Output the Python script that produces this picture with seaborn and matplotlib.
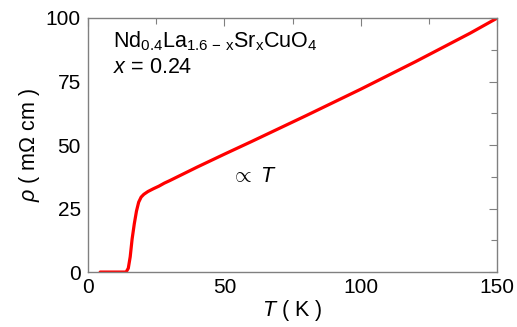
import numpy as np
import pandas as pd
import seaborn as sns
import matplotlib.pyplot as plt
from matplotlib.ticker import MultipleLocator

sns.set_style("white")
plt.rcParams['font.family'] = ['Liberation Sans', 'DejaVu Sans']
plt.rcParams['mathtext.fontset'] = 'custom'
plt.rcParams['mathtext.rm'] = 'Liberation Sans'
plt.rcParams['mathtext.it'] = 'Liberation Sans:italic'
plt.rcParams['text.color'] = 'black'
plt.rcParams['axes.labelcolor'] = 'black'
plt.rcParams['xtick.labelcolor'] = 'black'
plt.rcParams['ytick.labelcolor'] = 'black'

# resistivity curve
T = [4.5, 8, 12, 14.0, 14.8, 15.5, 16.2, 17.0, 17.8, 18.6, 19.5, 20.5, 22, 24, 26, 28,
     30, 40, 50, 60, 80, 100, 120, 140, 150]
rho = [0, 0, 0, 0, 1.5, 6, 13, 19, 24, 27.5, 29.5, 30.6, 31.7, 32.8, 33.8, 35,
       36.0, 41.3, 46.4, 51.4, 61.6, 72.0, 82.8, 94.0, 100]

df = pd.DataFrame({"T": T, "rho": rho})

fig, ax = plt.subplots(figsize=(5.17, 3.27), dpi=100)
sns.lineplot(data=df, x="T", y="rho", color="#ff0000", linewidth=2.3, ax=ax)

ax.set_xlim(0, 150)
ax.set_ylim(0, 100)
ax.xaxis.set_major_locator(MultipleLocator(50))
ax.xaxis.set_minor_locator(MultipleLocator(25))
ax.yaxis.set_major_locator(MultipleLocator(25))
ax.yaxis.set_minor_locator(MultipleLocator(12.5))
ax.tick_params(which="both", direction="in", top=True, right=True, color="#808080",
               labelsize=15)
ax.tick_params(axis="y", pad=5)
ax.tick_params(axis="x", pad=4)
ax.tick_params(which="major", length=6, width=0.8)
ax.tick_params(which="minor", length=4, width=0.8)
for s in ax.spines.values():
    s.set_color("#808080")
    s.set_linewidth(1.0)

ax.set_xlabel(r"$T$ ( K )", fontsize=15.5, labelpad=1)
ax.set_ylabel(r"$\rho$ ( m$\Omega$ cm )", fontsize=15.5, labelpad=3)

ax.text(0.062, 0.955, r"Nd$_{0.4}$La$_{1.6\,-\,\mathrm{x}}$Sr$_{\mathrm{x}}$CuO$_4$",
        transform=ax.transAxes, fontsize=15.5, va="top", ha="left")
ax.text(0.062, 0.845, r"$x$ = 0.24", transform=ax.transAxes, fontsize=15.5,
        va="top", ha="left")
ax.text(52.5, 37.5, r"$\propto$ $T$", fontsize=15.5, va="center", ha="left")

fig.subplots_adjust(left=0.17, right=0.962, top=0.945, bottom=0.168)
fig.savefig("out.png", dpi=100)
